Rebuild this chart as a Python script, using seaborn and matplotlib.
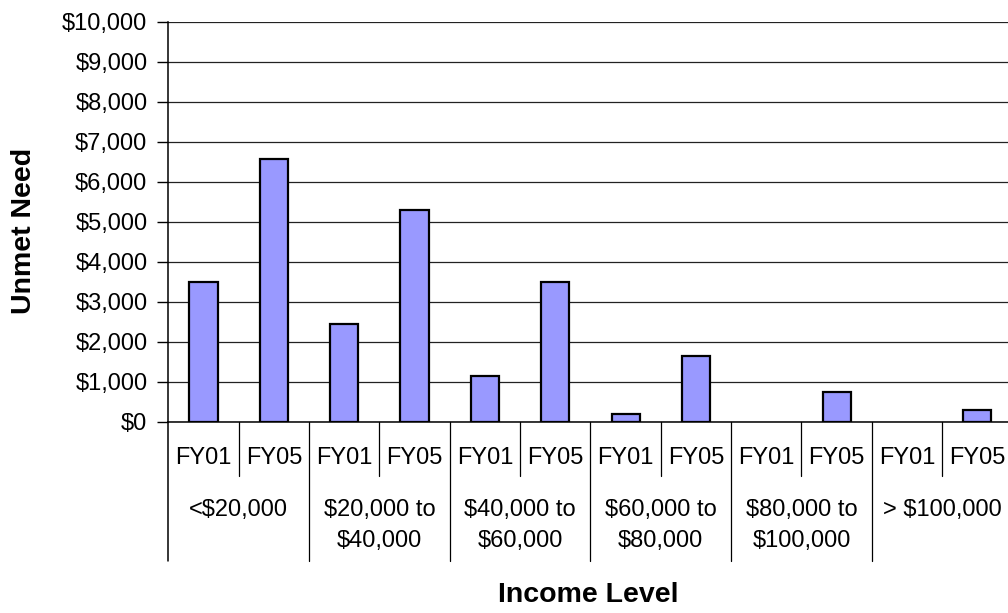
import matplotlib
matplotlib.use("Agg")
import matplotlib.pyplot as plt
import matplotlib.ticker as mticker
import seaborn as sns
import pandas as pd

# ---- data ----
years = ["FY01", "FY05"]
income_groups = ["<$20,000", "$20,000 to\n$40,000", "$40,000 to\n$60,000",
                 "$60,000 to\n$80,000", "$80,000 to\n$100,000", "> $100,000"]
fy01_values = [3500, 2430, 1150, 200, 0, 0]
fy05_values = [6560, 5300, 3500, 1650, 750, 300]
y_ticks = list(range(0, 10001, 1000))

rows = []
for g, a, b in zip(income_groups, fy01_values, fy05_values):
    rows.append({"group": g, "year": "FY01", "value": a})
    rows.append({"group": g, "year": "FY05", "value": b})
df = pd.DataFrame(rows)
df["slot"] = [f"{i}" for i in range(len(df))]

sns.set_theme(style="white")
plt.rcParams["font.family"] = ["Liberation Sans", "DejaVu Sans"]
plt.rcParams["text.color"] = "black"
plt.rcParams["axes.labelcolor"] = "black"
plt.rcParams["xtick.color"] = "black"
plt.rcParams["ytick.color"] = "black"

fig = plt.figure(figsize=(10.08, 6.13), dpi=100)
H = 613.0
W = 1008.0
left_px, right_px = 168.3, 1012.5
top_px, bot_px = 21.5, 421.7
ax = fig.add_axes([left_px / W, 1 - bot_px / H, (right_px - left_px) / W, (bot_px - top_px) / H])

sns.barplot(data=df, x="slot", y="value", color="#9999FF", edgecolor="black",
            linewidth=1.6, width=0.4, saturation=1, ax=ax, zorder=3)
for p in ax.patches:
    if p.get_height() == 0:
        p.set_linewidth(0)

ax.set_xlim(-0.5, len(df) - 0.5)
ax.set_ylim(0, 10000)
ax.set_yticks(y_ticks)
ax.yaxis.set_major_formatter(mticker.FuncFormatter(lambda v, p: "${:,.0f}".format(v)))
ax.tick_params(axis="y", direction="out", length=8, width=1, color="black",
               labelsize=17, labelcolor="black", pad=7, left=True)
ax.tick_params(axis="x", bottom=False, labelbottom=False)
ax.set_xlabel("")
ax.set_ylabel("")
ax.yaxis.grid(True, color="#222222", linewidth=0.9, zorder=0)
ax.set_axisbelow(True)
for s in ["top", "right"]:
    ax.spines[s].set_visible(False)
for s in ["left", "bottom"]:
    ax.spines[s].set_color("black")
    ax.spines[s].set_linewidth(1.1)
    ax.spines[s].set_zorder(4)

axh = bot_px - top_px
def off(px):
    return -(px - bot_px) / axh

trans = ax.get_xaxis_transform()
n = len(df)
# category separators
for k in range(n):
    xb = k - 0.5
    if k % 2 == 1:
        ax.plot([xb, xb], [0, off(476)], color="black", lw=0.9, transform=trans, clip_on=False)
    elif k > 0:
        ax.plot([xb, xb], [0, off(560.5)], color="black", lw=0.9, transform=trans, clip_on=False)
ax.plot([-0.5, -0.5], [0, off(560.5)], color="black", lw=1.1, transform=trans, clip_on=False)

# FY labels
for i, yr in enumerate(df["year"]):
    ax.text(i, off(458.5), yr, transform=trans, ha="center", va="center", fontsize=17, color="black")

# group labels
for gi, g in enumerate(income_groups):
    xc = 2 * gi + 0.5
    for li, line in enumerate(g.split("\n")):
        ax.text(xc, off(510 + 30.5 * li), line, transform=trans, ha="center", va="center",
                fontsize=17, color="black")

fig.text(24 / W, 1 - 231 / H, "Unmet Need", rotation=90, ha="center", va="center",
         fontsize=20.5, fontweight="bold", color="black")
fig.text(588 / W, 1 - 595 / H, "Income Level", ha="center", va="center",
         fontsize=20.5, fontweight="bold", color="black")

fig.savefig("out.png", dpi=100, facecolor="white")
